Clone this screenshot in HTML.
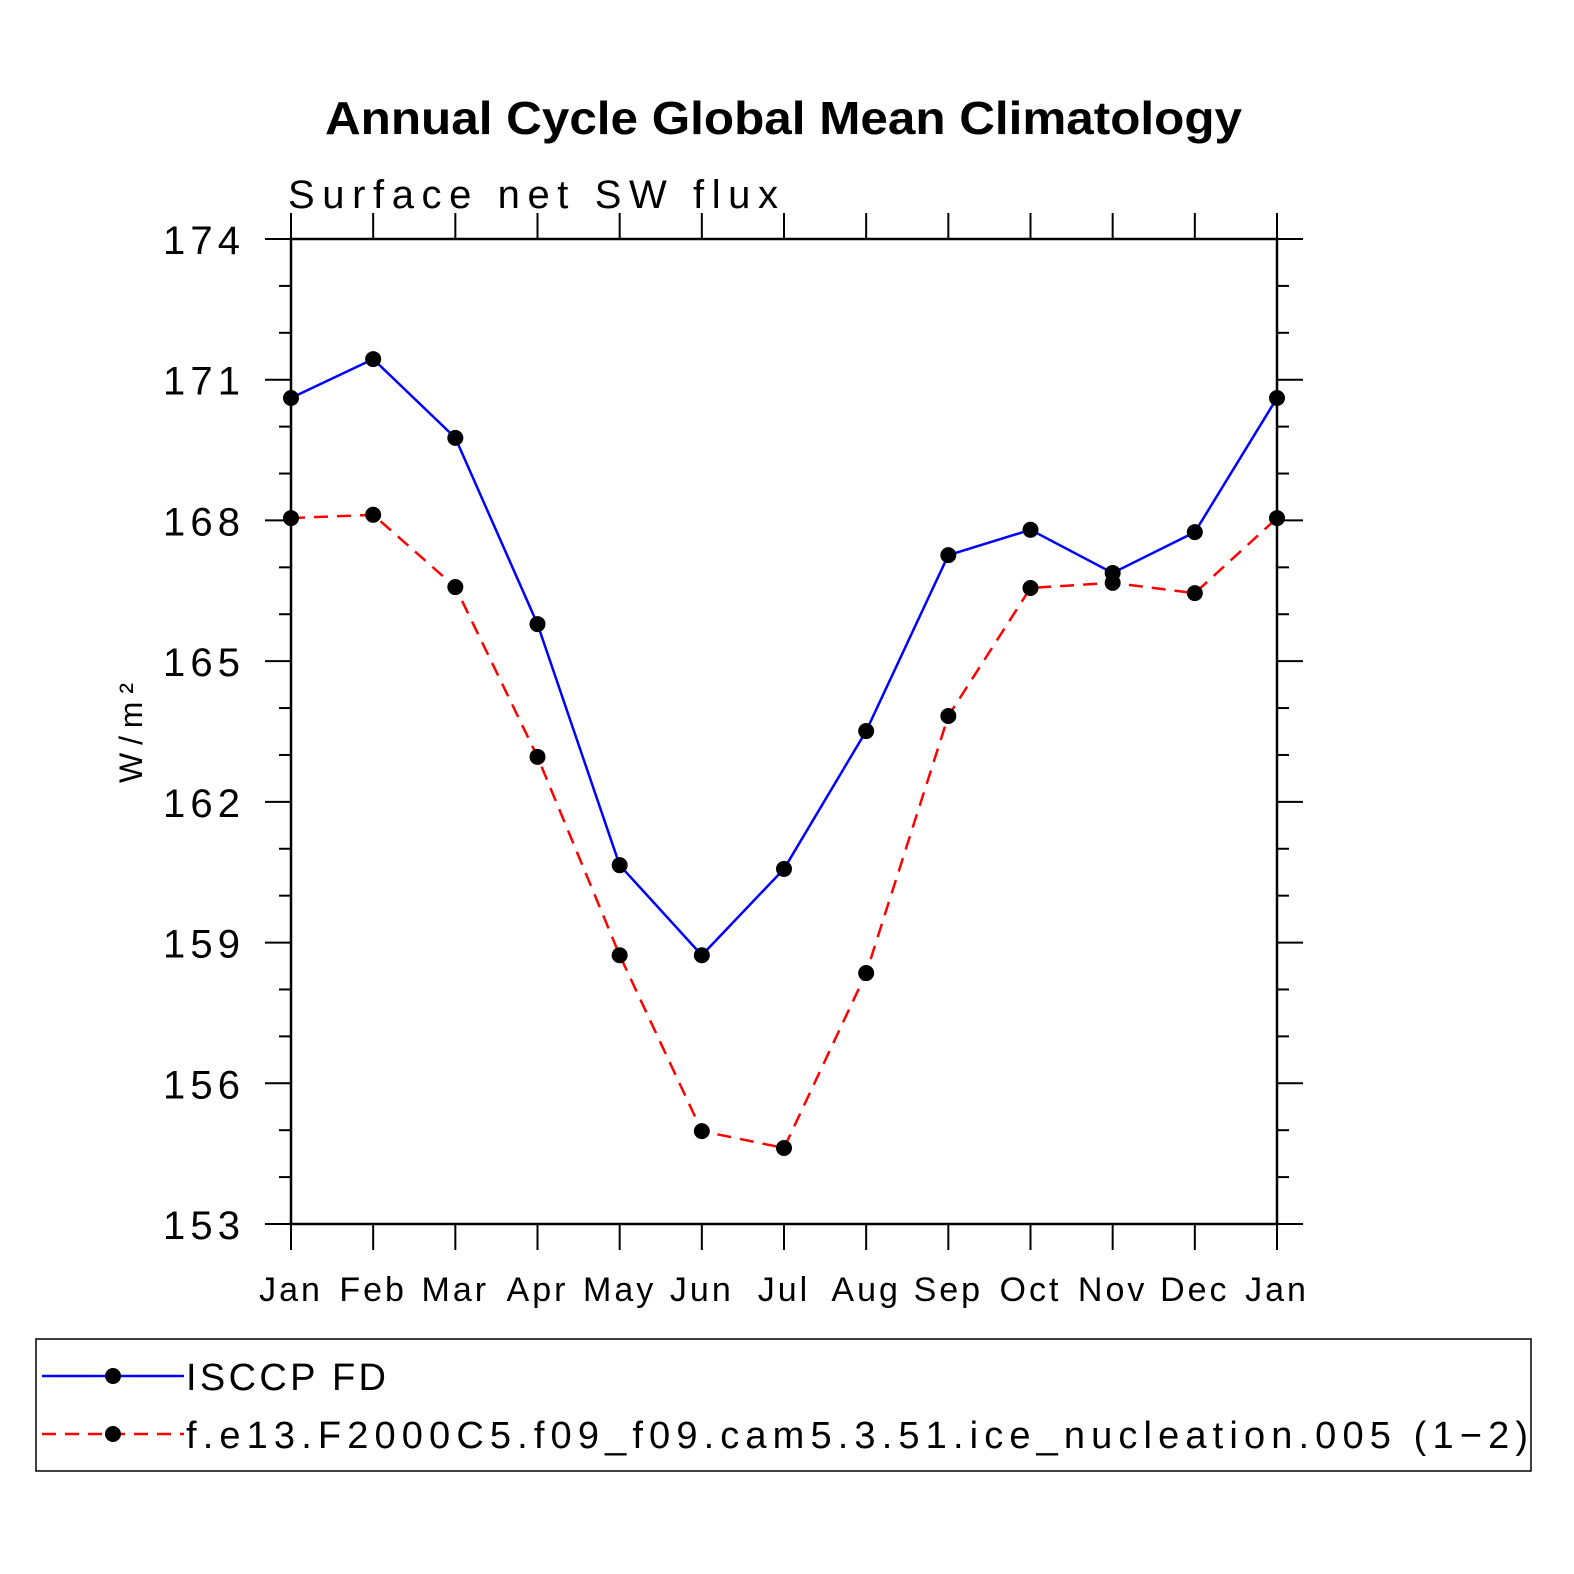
<!DOCTYPE html>
<html><head><meta charset="utf-8"><style>
html,body{margin:0;padding:0;background:#fff;}
svg{display:block;font-family:"Liberation Sans",sans-serif;}
</style></head><body>
<svg id="chart" width="1574" height="1574" viewBox="0 0 1574 1574" xmlns="http://www.w3.org/2000/svg">
<text x="325" y="134" font-size="46" font-weight="bold" textLength="917" lengthAdjust="spacingAndGlyphs">Annual Cycle Global Mean Climatology</text>
<text x="288" y="208" font-size="40" textLength="490" lengthAdjust="spacing">Surface net SW flux</text>
<text transform="translate(142,733) rotate(-90)" text-anchor="middle" font-size="32" textLength="100" lengthAdjust="spacing">W/m²</text>
<g id="axes"></g>
<g id="series"></g>
<g>
<rect x="36" y="1339" width="1495" height="132" fill="none" stroke="#000" stroke-width="1.5"/>
<line x1="42" y1="1376" x2="184" y2="1376" stroke="#0000ff" stroke-width="2.5"/>
<circle cx="113" cy="1376" r="8"/>
<text x="186" y="1390" font-size="38" textLength="200" lengthAdjust="spacing">ISCCP FD</text>
<line x1="42" y1="1434" x2="184" y2="1434" stroke="#ff0000" stroke-width="2.5" stroke-dasharray="14,9"/>
<circle cx="113" cy="1434" r="8"/>
<text x="186" y="1448" font-size="38" textLength="1342" lengthAdjust="spacing">f.e13.F2000C5.f09_f09.cam5.3.51.ice_nucleation.005 (1−2)</text>
</g>
</svg>
<script>
const months = ["Jan","Feb","Mar","Apr","May","Jun","Jul","Aug","Sep","Oct","Nov","Dec","Jan"];
const isccp = [170.61,171.44,169.76,165.79,160.65,158.73,160.57,163.51,167.26,167.80,166.88,167.75,170.61];
const model = [168.05,168.12,166.58,162.96,158.73,154.98,154.62,158.35,163.83,166.56,166.67,166.45,168.05];
const yTicks = [153,156,159,162,165,168,171,174];

const NS="http://www.w3.org/2000/svg";
const X0=291,X1=1277,Y0=1224,Y1=239,YMIN=153,YMAX=174;
const xs=i=>X0+(X1-X0)*i/(months.length-1);
const ys=v=>Y0-(v-YMIN)/(YMAX-YMIN)*(Y0-Y1);
function mk(tag,attrs,parent){const e=document.createElementNS(NS,tag);for(const k in attrs)e.setAttribute(k,attrs[k]);parent.appendChild(e);return e;}
const axes=document.getElementById('axes'),ser=document.getElementById('series');
const frame=mk('rect',{x:X0,y:Y1,width:X1-X0,height:Y0-Y1,fill:'none',stroke:'#000','stroke-width':2.5},axes);


for(let v=YMIN;v<=YMAX;v++){
  const major=yTicks.includes(v);const y=ys(v);
  const l=mk('line',{x1:X0-(major?26:12),x2:X0,y1:y,y2:y,stroke:'#000','stroke-width':2},axes);
  
  
  const r=mk('line',{x1:X1,x2:X1+(major?26:12),y1:y,y2:y,stroke:'#000','stroke-width':2},axes);
  
  
}
yTicks.forEach(v=>{
  const t=mk('text',{x:240,y:ys(v)+15,'text-anchor':'end','font-size':40,textLength:77,lengthAdjust:'spacing'},axes);
  t.textContent=v;
  
  
});
months.forEach((m,i)=>{
  const x=xs(i);
  const b=mk('line',{x1:x,x2:x,y1:Y0,y2:Y0+26,stroke:'#000','stroke-width':2},axes);
  
  
  const t2=mk('line',{x1:x,x2:x,y1:Y1,y2:Y1-26,stroke:'#000','stroke-width':2},axes);
  
  
  const t=mk('text',{x:x,y:1301,'text-anchor':'middle','font-size':34,'letter-spacing':3},axes);
  t.textContent=m;
  
  
});
function draw(vals,color,dash,name){
  const p=mk('polyline',{points:vals.map((v,i)=>xs(i)+','+ys(v)).join(' '),fill:'none',stroke:color,'stroke-width':2.5},ser);
  if(dash)p.setAttribute('stroke-dasharray',dash);
  
  
  vals.forEach((v,i)=>{
    const c=mk('circle',{cx:xs(i),cy:ys(v),r:8,fill:'#000'},ser);
    
    
  });
}
draw(isccp,'#0000ff',null,'isccp');
draw(model,'#ff0000','14,9','model');
</script>
</body></html>
